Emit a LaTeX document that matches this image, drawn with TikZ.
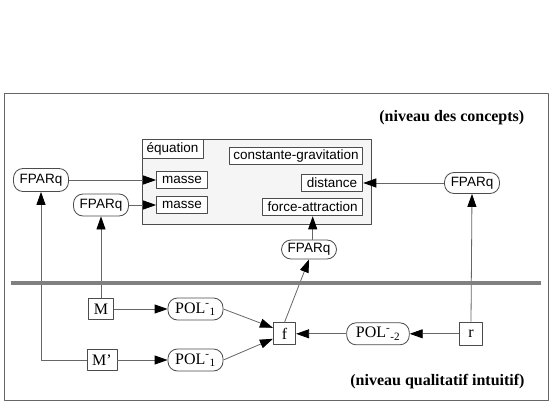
\documentclass[tikz,border=0pt]{standalone}
\usepackage{fontspec}
\setmainfont{Liberation Serif}
\setsansfont{Liberation Sans}
\usetikzlibrary{arrows.meta}

\begin{document}
\begin{tikzpicture}[x=1pt, y=-1pt, line width=0.8pt, line join=round,
  begriff/.style={draw=black!70, fill=white, inner sep=0pt, font=\fontsize{13.5}{15}\sffamily},
  kapsel/.style={draw=black!70, fill=white, rounded corners=9.5pt, inner sep=0pt,
    minimum width=55pt, minimum height=21pt},
  fparq/.style={kapsel, font=\fontsize{13.5}{15}\sffamily},
  pol/.style={kapsel, minimum height=22pt, font=\fontsize{16}{18}\selectfont},
  knoten/.style={draw=black!70, fill=white, inner sep=0pt, minimum height=22pt,
    font=\fontsize{16}{18}\selectfont},
  pfeil/.style={draw=black!60, -{Triangle[length=13pt, width=9pt, color=black]}},
  leitung/.style={draw=black!60}]
  \useasboundingbox (0,0) rectangle (554,404);
  % Rahmen und Ebenen
  \draw[draw=black!60, line width=1pt] (4,93.3) rectangle (548.3,400.7);
  \node[anchor=east, font=\fontsize{16}{18}\bfseries] (oben) at (528,118) {(niveau des concepts)};
  \node[anchor=east, font=\fontsize{16}{18}\bfseries] (unten) at (528.3,381.7) {(niveau qualitatif intuitif)};
  % Gleichung mit ihren Begriffen
  \node[draw=black!70, fill=black!4, minimum width=229pt, minimum height=84.5pt] (loi) at (256.5,181.75) {};
  \node[begriff, minimum width=61pt, minimum height=19pt] (equation) at (172.5,149) {équation};
  \node[begriff, minimum width=133.7pt, minimum height=17.7pt] (constante) at (296,156) {constante-gravitation};
  \node[begriff, minimum width=51pt, minimum height=17.3pt] (masseA) at (182,180) {masse};
  \node[begriff, minimum width=51pt, minimum height=16.7pt] (masseB) at (182,205) {masse};
  \node[begriff, minimum width=61.7pt, minimum height=17.4pt] (distance) at (332,183) {distance};
  \node[begriff, minimum width=100pt, minimum height=17.7pt] (force) at (312.7,207) {force-attraction};
  % Parameter
  \node[fparq, minimum height=23pt] (fparqA) at (41,180) {FPARq};
  \node[fparq, minimum height=22pt] (fparqB) at (101,205) {FPARq};
  \node[fparq] (fparqC) at (472,183) {FPARq};
  \node[fparq, minimum height=19pt] (fparqD) at (309,249.5) {FPARq};
  % qualitative Ebene
  \node[knoten, minimum width=25.7pt, minimum height=21.3pt] (M) at (101,309) {M};
  \node[knoten, minimum width=30pt, minimum height=20.3pt] (Mp) at (102,360) {M’};
  \node[pol] (polA) at (195.5,309) {POL\textsuperscript{-}\textsubscript{1}};
  \node[pol] (polB) at (195.5,360) {POL\textsuperscript{-}\textsubscript{1}};
  \node[knoten, minimum width=22.4pt] (f) at (284.5,333.8) {f};
  \node[pol, minimum width=62.6pt] (polC) at (378,333.8) {POL\textsuperscript{-}\textsubscript{-2}};
  \node[knoten, minimum width=22.3pt, minimum height=23.4pt] (r) at (471,333.8) {r};
  % Verbindungen
  \draw[pfeil] (fparqA.east) -- (masseA.west);
  \draw[pfeil] (fparqB.east) -- (masseB.west);
  \draw[pfeil] (fparqC.west) -- (distance.east);
  \draw[pfeil] (fparqD.north -| force.south) -- (force.south);
  \draw[pfeil] (f.north) -- (fparqD.south);
  \draw[pfeil] (M.north) -- (fparqB.south);
  \draw[pfeil] (Mp.west) -| (fparqA.south);
  \draw[pfeil] (r.north) -- (fparqC.south);
  \draw[pfeil] (M.east) -- (polA.west);
  \draw[pfeil] (Mp.east) -- (polB.west);
  \draw[pfeil] (polA.east) -- ([yshift=6pt]f.west);
  \draw[pfeil] (polB.east) -- ([yshift=-5pt]f.west);
  \draw[pfeil] (polC.west) -- (f.east);
  \draw[pfeil] (r.west) -- (polC.east);
  % Trennlinie
  \draw[draw=black!50, line width=4pt] (10.7,283) -- (541,283);
\end{tikzpicture}
\end{document}
